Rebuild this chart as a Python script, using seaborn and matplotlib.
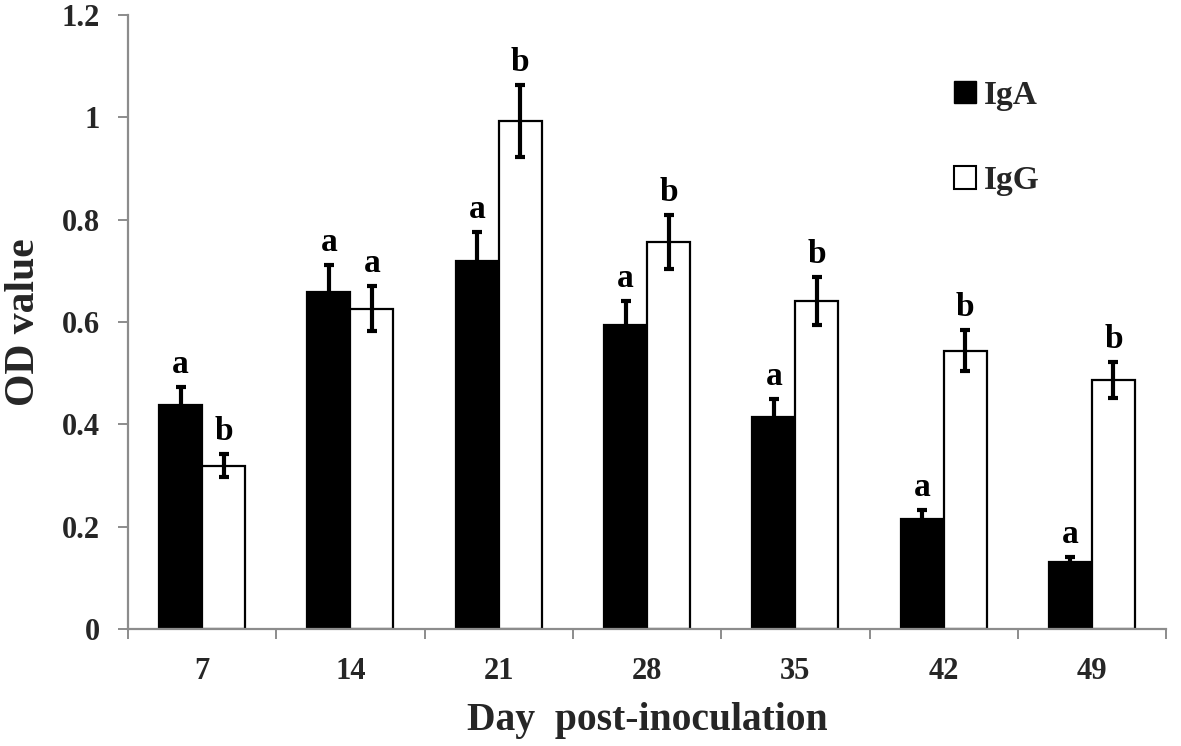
import matplotlib
matplotlib.use("Agg")
import matplotlib.pyplot as plt
import seaborn as sns
import pandas as pd
import numpy as np
from matplotlib.patches import Patch

days = ["7", "14", "21", "28", "35", "42", "49"]
iga = [0.437, 0.659, 0.719, 0.593, 0.414, 0.215, 0.130]
igg = [0.319, 0.626, 0.993, 0.756, 0.641, 0.544, 0.487]
iga_err = [0.035, 0.053, 0.057, 0.047, 0.035, 0.017, 0.011]
igg_err = [0.022, 0.044, 0.070, 0.053, 0.047, 0.040, 0.035]
iga_sig = ["a", "a", "a", "a", "a", "a", "a"]
igg_sig = ["b", "a", "b", "b", "b", "b", "b"]
series = ["IgA", "IgG"]

df = pd.DataFrame({
    "day": days * 2,
    "value": iga + igg,
    "err": iga_err + igg_err,
    "sig": iga_sig + igg_sig,
    "group": [series[0]] * len(days) + [series[1]] * len(days),
})

sns.set_theme(style="white")
plt.rcParams["font.family"] = ["Liberation Serif", "DejaVu Serif"]
plt.rcParams["font.weight"] = "bold"

fig = plt.figure(figsize=(11.81, 7.46), dpi=100)
ax = fig.add_axes([0.1084, 0.157, 0.879, 0.823])

sns.barplot(data=df, x="day", y="value", hue="group", order=days,
            hue_order=series, palette={"IgA": "black", "IgG": "white"},
            width=0.58, edgecolor="black", linewidth=1.6, errorbar=None,
            legend=False, ax=ax, zorder=2)

# error bars and letters
bars = [p for p in ax.patches]
for gi, g in enumerate(series):
    sub = df[df["group"] == g].reset_index(drop=True)
    for i in range(len(days)):
        p = bars[gi * len(days) + i]
        xc = p.get_x() + p.get_width() / 2
        v = sub.loc[i, "value"]
        e = sub.loc[i, "err"]
        ax.errorbar(xc, v, yerr=e, fmt="none", ecolor="black",
                    elinewidth=3.0, capsize=3.5, capthick=3.0, zorder=3)
        ax.annotate(sub.loc[i, "sig"], (xc, v + e), xytext=(0, 5),
                    textcoords="offset points", ha="center", va="bottom",
                    fontsize=24, fontweight="bold", color="black")

ax.set_ylim(0, 1.2)
ax.set_xlim(-0.5, len(days) - 0.5)
ax.set_yticks([0, 0.2, 0.4, 0.6, 0.8, 1.0, 1.2])
ax.set_yticklabels(["0", "0.2", "0.4", "0.6", "0.8", "1", "1.2"])
ax.set_xticks(range(len(days)))
ax.set_xticklabels(days)
ax.set_xticks(np.arange(-0.5, len(days)), minor=True)

for s in ["top", "right"]:
    ax.spines[s].set_visible(False)
for s in ["left", "bottom"]:
    ax.spines[s].set_color("#8c8c8c")
    ax.spines[s].set_linewidth(1.6)

ax.tick_params(axis="y", which="major", direction="out", length=7, width=1.4,
               color="#8c8c8c", labelsize=22, pad=13, left=True)
ax.tick_params(axis="x", which="major", length=0, labelsize=22, pad=20)
ax.tick_params(axis="x", which="minor", direction="out", length=7, width=1.4,
               color="#8c8c8c", bottom=True)
for lab in ax.get_xticklabels() + ax.get_yticklabels():
    lab.set_fontweight("bold")

ax.set_xlabel("Day  post-inoculation", fontsize=28.5, fontweight="bold", labelpad=12)
ax.set_ylabel("OD value", fontsize=30, fontweight="bold", labelpad=14)
ax.grid(False)

handles = [Patch(facecolor="black", edgecolor="black", label="IgA"),
           Patch(facecolor="white", edgecolor="black", linewidth=1.5, label="IgG")]
ax.legend(handles=handles, loc="upper left", bbox_to_anchor=(0.767, 0.943),
          frameon=False, prop={"size": 24, "weight": "bold"},
          handlelength=0.66, handleheight=0.66, handletextpad=0.24,
          labelspacing=1.63)

fig.savefig("out.png", dpi=100)
